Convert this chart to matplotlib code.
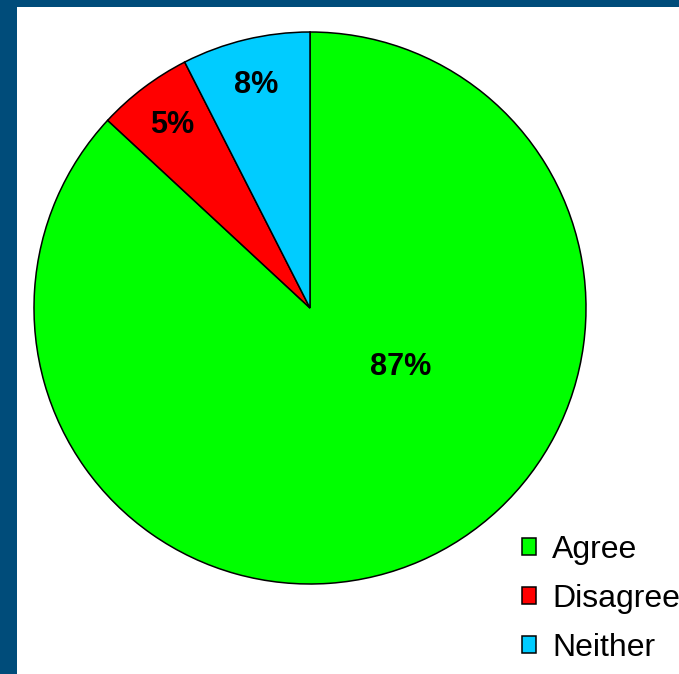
import numpy as np
import matplotlib.pyplot as plt
from matplotlib.patches import Rectangle

labels = ["Agree", "Disagree", "Neither"]
values = [86.9, 5.6, 7.5]
pct_labels = ["87%", "5%", "8%"]
colors = ["#00FF00", "#FF0000", "#00CCFF"]

plt.rcParams['font.family'] = ['Liberation Sans', 'DejaVu Sans']

W, H = 679, 674
fig = plt.figure(figsize=(W / 100, H / 100), dpi=100)
fig.patch.set_facecolor("#004C7A")
fig.patches.append(Rectangle((17 / W, 0), 1 - 17 / W, 1 - 7 / H,
                             transform=fig.transFigure, facecolor="white",
                             edgecolor="none", zorder=-10))

ax = fig.add_axes([34 / W, 90 / H, 552 / W, 552 / H])
ax.set_zorder(1)
wedges, texts = ax.pie(
    values, colors=colors, startangle=90, counterclock=False, radius=1,
    wedgeprops=dict(edgecolor="black", linewidth=1.1))

# percentage labels: small slices near the rim, the big one nearer the centre
for w, txt in zip(wedges, pct_labels):
    mid = np.deg2rad((w.theta1 + w.theta2) / 2)
    r = 0.83
    if w.theta2 - w.theta1 > 180:
        mid, r = np.deg2rad(-33), 0.39
    ax.text(r * np.cos(mid), r * np.sin(mid), txt, ha="center", va="center",
            fontsize=22, fontweight="bold", color="black")

ax.set_xlim(-1, 1)
ax.set_ylim(-1, 1)
ax.set_aspect("equal")
ax.axis("off")

leg = fig.legend(wedges, labels, loc="upper left",
                 bbox_to_anchor=(522 / W, 1 - 535 / H),
                 frameon=False, fontsize=23, handlelength=0.44,
                 handleheight=0.44, handletextpad=0.5, labelspacing=0.6,
                 borderpad=0, borderaxespad=0)
leg.set_zorder(2)

fig.savefig("out.png", dpi=100)
